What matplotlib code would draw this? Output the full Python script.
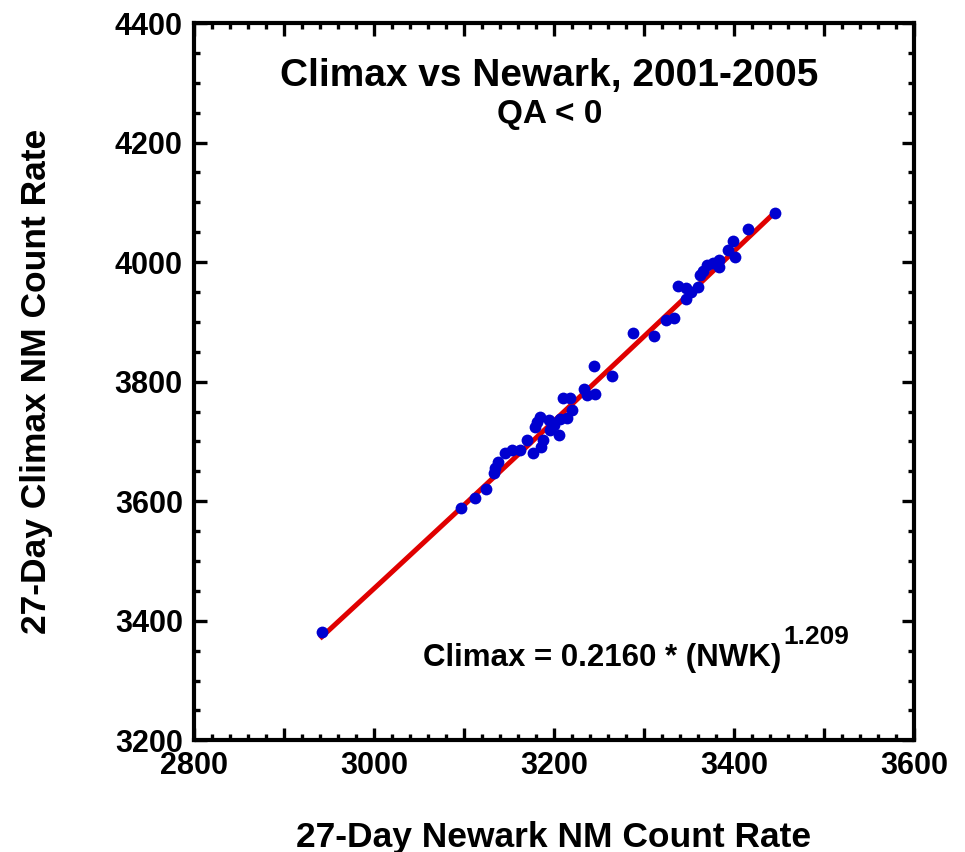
import numpy as np
import matplotlib
matplotlib.use("Agg")
import matplotlib.pyplot as plt
from matplotlib.ticker import MultipleLocator

plt.rcParams['font.family'] = ['Liberation Sans', 'DejaVu Sans']
plt.rcParams['font.weight'] = 'bold'

# 27-day averaged count rates, QA < 0 epoch
newark = [2942, 3097, 3112, 3124, 3133, 3134, 3138, 3146, 3153, 3162,
          3170, 3177, 3186, 3188, 3179, 3181, 3184, 3194, 3196, 3206,
          3207, 3210, 3218, 3220, 3215, 3200, 3233, 3237, 3246, 3244,
          3265, 3288, 3311, 3325, 3333, 3338, 3347, 3347, 3352, 3360,
          3362, 3366, 3370, 3377, 3384, 3384, 3394, 3401, 3399, 3416,
          3446]
climax = [3381, 3588, 3605, 3620, 3647, 3655, 3666, 3680, 3685, 3685,
          3702, 3680, 3691, 3702, 3724, 3733, 3741, 3736, 3719, 3710,
          3738, 3772, 3772, 3752, 3740, 3728, 3787, 3777, 3780, 3826,
          3810, 3882, 3876, 3903, 3906, 3960, 3956, 3938, 3950, 3959,
          3978, 3985, 3995, 3998, 4003, 3992, 4020, 4009, 4036, 4055,
          4082]

# power-law fit: Climax = A * NWK^B
fit_a = 0.2160
fit_b = 1.209

fig = plt.figure(figsize=(9.65, 8.52), dpi=100)
ax = fig.add_axes([0.201, 0.131, 0.746, 0.842])

nwk = np.linspace(min(newark), max(newark), 200)
ax.plot(nwk, fit_a * nwk ** fit_b, color='#e00000', lw=3.6, zorder=2)
ax.plot(newark, climax, 'o', color='#0000d0', ms=8.5, mec='none', zorder=3)

ax.set_xlim(2800, 3600)
ax.set_ylim(3200, 4400)

ax.xaxis.set_minor_locator(MultipleLocator(20))
ax.yaxis.set_major_locator(MultipleLocator(200))
ax.yaxis.set_minor_locator(MultipleLocator(50))
ax.set_xticks(np.arange(2800, 3601, 100),
              labels=['2800', '', '3000', '', '3200', '', '3400', '', '3600'])

ax.tick_params(which='both', direction='in', top=True, right=True, width=2.4)
ax.tick_params(which='major', length=9, labelsize=22, pad=8)
ax.tick_params(which='minor', length=4.5)
for lab in ax.get_xticklabels() + ax.get_yticklabels():
    lab.set_fontweight('bold')
for sp in ax.spines.values():
    sp.set_linewidth(3)

ax.set_xlabel('27-Day Newark NM Count Rate', fontsize=25.5, fontweight='bold',
              va='center')
ax.set_ylabel('27-Day Climax NM Count Rate', fontsize=25.5, fontweight='bold',
              va='center')
ax.xaxis.set_label_coords(0.5, -0.135)
ax.yaxis.set_label_coords(-0.219, 0.5)

ax.text(0.494, 0.926, 'Climax vs Newark, 2001-2005', transform=ax.transAxes,
        ha='center', va='center', fontsize=28, fontweight='bold')
ax.text(0.494, 0.873, 'QA < 0', transform=ax.transAxes,
        ha='center', va='center', fontsize=24, fontweight='bold')

eq = ax.text(3055, 3337, 'Climax = %.4f * (NWK)' % fit_a, ha='left',
             va='center', fontsize=22.5, fontweight='bold')
ax.annotate('%.3f' % fit_b, xy=(1.005, 0.8), xycoords=eq, ha='left',
            va='bottom', fontsize=19, fontweight='bold')

fig.savefig('out.png', dpi=100)
